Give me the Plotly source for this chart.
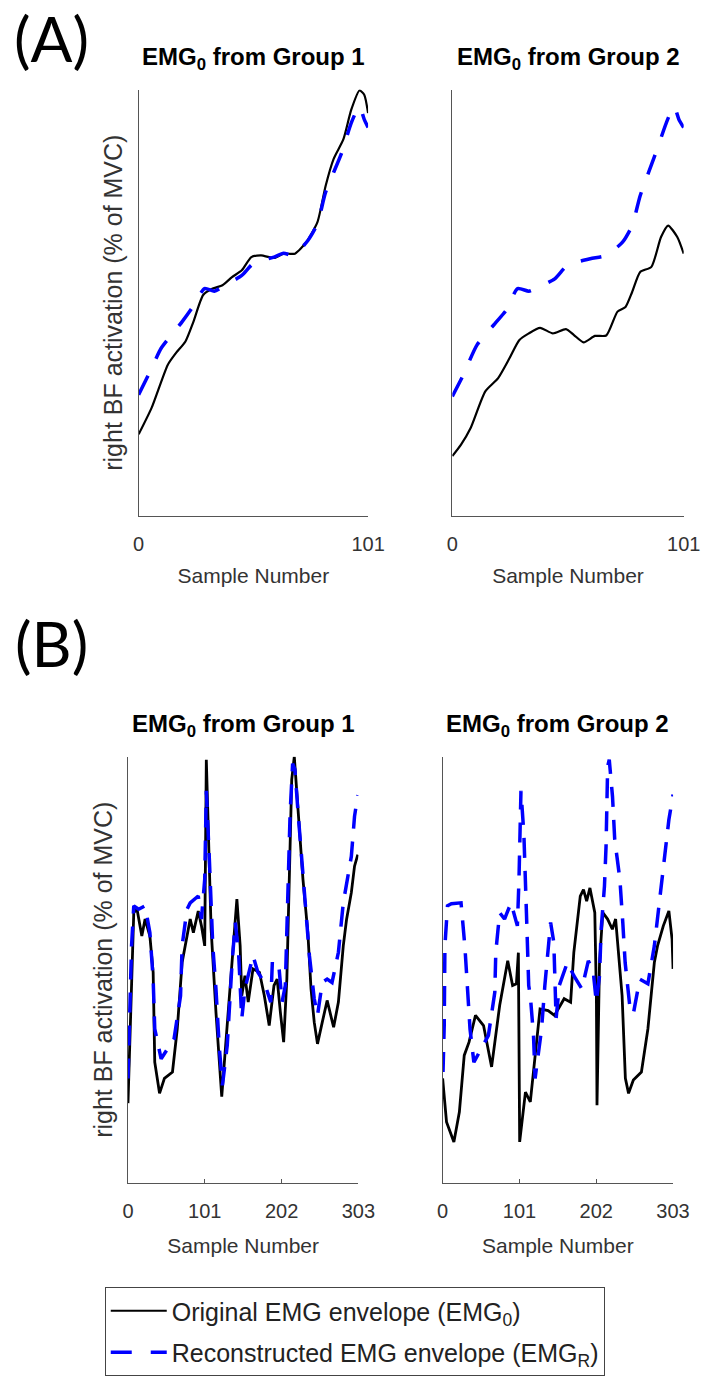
import plotly.graph_objects as go

W, H = 722, 1376

# ---------------- data (arbitrary % of MVC units, 0-100 scale) ----------------
a1_orig_x = [0, 5.7, 12.8, 16.3, 20.6, 24.1, 28.4, 32.6, 36.9, 41.1, 45.4, 49.6, 53.9, 59.6,
             63.8, 68.8, 73.8, 78.7, 82.3, 85.8, 90.1, 93.6, 97.2, 99.3, 101]
a1_orig_y = [19.1, 25.3, 35.4, 38.1, 40.9, 45.5, 51.8, 53.3, 54.1, 56.0, 57.6, 60.7, 61.1, 60.5,
             61.5, 61.5, 64.2, 68.9, 77.4, 83.7, 88.3, 95.3, 99.8, 98.8, 94.5]
a1_rec_x = [0, 5.7, 9.9, 19.1, 23.3, 29.0, 33.3, 36.9, 45.4, 50.3, 59.6, 63.8, 68.1, 74.5,
            78.7, 82.3, 89.4, 93.6, 97.2, 99.3, 101]
a1_rec_y = [28.4, 34.6, 39.3, 45.5, 48.6, 53.3, 52.7, 53.7, 56.4, 59.1, 60.7, 61.6, 61.1, 64.6,
            68.5, 75.9, 85.2, 92.2, 96.1, 93.0, 91.1]

a2_orig_x = [0, 3.8, 8.0, 14.4, 20.0, 25.0, 29.2, 33.4, 38.3, 43.9, 49.6, 53.1, 57.3, 62.3,
             67.2, 72.1, 75.6, 78.5, 82.0, 86.9, 91.1, 94.2, 98.2, 101]
a2_orig_y = [14.0, 16.7, 20.6, 29.2, 32.3, 37.0, 41.2, 42.8, 44.1, 42.8, 43.8, 42.4, 40.7, 42.2,
             42.3, 47.9, 49.0, 52.5, 57.2, 58.4, 65.4, 68.1, 65.4, 61.5]
a2_rec_x = [0, 4.5, 10.8, 18.6, 23.5, 28.5, 33.4, 36.2, 44.7, 50.3, 60.2, 67.2, 74.3, 78.5,
            82.0, 88.3, 94.0, 96.8, 98.9, 101]
a2_rec_y = [28.0, 32.7, 40.1, 45.1, 48.2, 53.3, 52.7, 53.3, 55.6, 58.8, 60.3, 61.1, 64.2, 68.1,
            75.1, 84.4, 93.0, 96.1, 93.0, 91.1]

b1_orig_x = [0, 3.5, 7.6, 11.9, 18.2, 22.5, 28.8, 33.1, 35.2, 41.5, 47.9, 58.5, 64.8, 71.2,
             75.4, 81.8, 86.0, 92.4, 96.6, 100.9, 103.0, 105.1, 109.3, 115.7, 123.3, 128.4,
             134.8, 139.0, 143.2, 147.5, 149.6, 153.8, 158.1, 164.4, 172.9, 179.3, 185.7,
             192.0, 196.2, 200.4, 204.7, 208.9, 211.0, 215.3, 218.7, 223.7, 230.1, 236.5,
             240.7, 244.9, 249.2, 255.5, 261.9, 270.4, 276.7, 283.1, 287.4, 293.7, 297.9, 302.2]
b1_orig_y = [18.7, 40.0, 63.4, 64.2, 57.9, 61.9, 57.9, 49.4, 28.3, 21.0, 24.5, 26.0, 36.1, 51.7,
             55.6, 61.9, 58.7, 63.8, 60.3, 55.6, 99.3, 86.8, 59.6, 40.0, 20.2, 32.2,
             47.9, 58.7, 66.6, 55.6, 43.9, 48.6, 42.4, 50.2, 49.4, 43.9, 36.9,
             46.3, 47.8, 40.0, 33.0, 47.8, 63.4, 94.6, 100.0, 86.8, 71.2, 58.7,
             45.5, 37.7, 32.6, 37.7, 42.8, 36.5, 42.4, 55.6, 61.8, 68.1, 74.3, 77.0]
b1_rec_x = [0, 3.4, 4.7, 7.6, 14.0, 22.5, 28.8, 33.1, 35.2, 43.6, 60.6, 69.1, 71.2, 77.6, 81.8,
            92.4, 96.6, 100.9, 103.0, 107.2, 111.5, 115.7, 119.9, 124.2, 130.5, 136.9, 141.1,
            145.4, 147.5, 149.6, 153.8, 164.4, 170.8, 179.3, 187.8, 189.9, 198.4, 202.6,
            206.9, 208.9, 213.2, 216.5, 219.5, 223.7, 230.1, 236.5, 238.6, 244.9, 249.2,
            255.5, 261.9, 268.3, 276.7, 283.1, 293.7, 297.9, 302.2]
b1_rec_y = [24.5, 43.9, 55.6, 65.0, 64.2, 65.0, 58.7, 47.8, 36.1, 29.1, 33.8, 43.9, 55.6, 64.2, 65.7,
            67.3, 61.9, 71.2, 92.0, 75.1, 55.6, 45.5, 32.2, 22.9, 32.2, 51.7, 61.1,
            54.1, 47.8, 38.5, 45.5, 53.3, 49.4, 47.0, 42.4, 52.1, 50.9, 42.4,
            46.3, 59.6, 86.8, 98.4, 97.0, 86.8, 72.7, 59.6, 53.3, 43.2, 39.3,
            47.0, 47.8, 47.0, 54.1, 65.7, 76.6, 86.0, 91.0]

b2_orig_x = [0, 5.1, 14.8, 22.0, 28.4, 34.7, 43.2, 53.8, 64.4, 75.0, 85.6, 92.0, 97.0, 99.6,
             101.3, 108.9, 115.3, 128.1, 138.7, 147.1, 159.8, 168.3, 172.5, 181.0, 185.2,
             189.4, 193.7, 200.1, 202.2, 203.0, 206.3, 210.6, 216.9, 223.2, 227.5, 236.0,
             240.3, 244.5, 250.8, 261.4, 269.9, 278.4, 282.6, 290.2, 297.5, 301.7, 303]
b2_orig_y = [24.5, 14.3, 9.6, 16.6, 29.9, 33.0, 39.3, 36.9, 27.2, 41.6, 52.1, 46.3, 46.7, 54.0,
             9.6, 21.3, 19.0, 40.8, 40.4, 39.3, 43.2, 42.4, 54.0, 67.3, 68.8,
             66.1, 69.2, 63.4, 43.9, 18.2, 51.7, 63.4, 61.9, 59.5, 61.9, 43.9,
             24.5, 21.0, 24.1, 26.0, 36.1, 51.7, 55.6, 60.3, 63.8, 57.2, 50.2]
b2_rec_x = [0.5, 2.1, 3.0, 6.4, 11.5, 24.2, 29.2, 33.0, 36.0, 41.1, 60.2, 68.6, 69.9, 75.0,
            81.4, 89.9, 98.3, 100.4, 103.0, 104.5, 106.8, 110.2, 113.2, 115.3, 119.5, 121.6,
            130.1, 134.4, 138.6, 142.0, 146.2, 147.1, 149.2, 153.4, 164.0, 172.5, 183.1,
            191.6, 197.9, 202.1, 206.3, 208.5, 212.8, 214.9, 217.0, 219.1, 223.4, 226.3,
            233.1, 236.9, 240.0, 246.5, 250.8, 259.3, 269.9, 278.4, 284.8, 291.1, 297.5, 303]
b2_rec_y = [26.0, 36.9, 55.6, 65.0, 65.5, 65.7, 55.6, 46.0, 36.1, 28.3, 34.6, 44.7, 54.1, 63.4,
            61.9, 65.7, 60.3, 71.2, 92.0, 88.0, 82.0, 63.4, 46.3, 43.9, 34.6, 24.5,
            36.1, 46.3, 54.1, 61.1, 56.4, 47.8, 38.5, 46.3, 51.7, 48.6, 45.5,
            52.1, 49.8, 42.4, 48.6, 59.6, 69.6, 79.0, 97.7, 99.3, 90.6, 80.6,
            71.2, 61.1, 51.7, 40.8, 39.7, 47.8, 46.7, 55.6, 65.7, 75.1, 85.2, 91.1]

a_ticks = [0, 101]
b_ticks = [0, 101, 202, 303]
x_label = "Sample Number"
y_label = "right BF activation (% of MVC)"
titles = ["EMG<sub>0</sub> from Group 1", "EMG<sub>0</sub> from Group 2",
          "EMG<sub>0</sub> from Group 1", "EMG<sub>0</sub> from Group 2"]
legend_names = ["Original EMG envelope (EMG<sub>0</sub>)",
                "Reconstructed EMG envelope (EMG<sub>R</sub>)"]

# ---------------- layout geometry (pixels) ----------------
def xd(l, r):
    return [l / W, r / W]

def yd(top, bot):
    return [(H - bot) / H, (H - top) / H]

panels = [
    dict(x=xd(137, 374), y=yd(90, 518), rng=[0, 101], ticks=a_ticks, ytitle=True, xs=14),
    dict(x=xd(461, 700), y=yd(90, 518), rng=[0, 101], ticks=a_ticks, ytitle=False, xs=14),
    dict(x=xd(126, 364), y=yd(760, 1188), rng=[0, 303], ticks=b_ticks, ytitle=True, xs=17),
    dict(x=xd(451, 689), y=yd(760, 1188), rng=[0, 303], ticks=b_ticks, ytitle=False, xs=17),
]

FONT = "Liberation Sans, Arial, sans-serif"
AXC = "#555555"
TXC = "#333333"

fig = go.Figure()

series = [
    (a1_orig_x, a1_orig_y, a1_rec_x, a1_rec_y),
    (a2_orig_x, a2_orig_y, a2_rec_x, a2_rec_y),
    (b1_orig_x, b1_orig_y, b1_rec_x, b1_rec_y),
    (b2_orig_x, b2_orig_y, b2_rec_x, b2_rec_y),
]

for i, (ox, oy, rx, ry) in enumerate(series):
    sfx = "" if i == 0 else str(i + 1)
    is_a = i < 2
    fig.add_trace(go.Scatter(
        x=ox, y=oy, mode="lines", xaxis="x" + sfx, yaxis="y" + sfx,
        line=dict(color="black", width=2.2 if is_a else 2.8,
                  shape="spline" if is_a else "linear", smoothing=0.6),
        name=legend_names[0], legendgroup="orig", showlegend=(i == 0)))
    fig.add_trace(go.Scatter(
        x=rx, y=ry, mode="lines", xaxis="x" + sfx, yaxis="y" + sfx,
        line=dict(color="#0000ff", width=3.5, dash="21px,19px" if is_a else "20px,13px",
                  shape="spline" if is_a else "linear", smoothing=0.6),
        name=legend_names[1], legendgroup="rec", showlegend=(i == 0)))

layout = dict(
    width=W, height=H, margin=dict(l=0, r=0, t=0, b=0),
    paper_bgcolor="white", plot_bgcolor="white",
    font=dict(family=FONT, color=TXC),
    showlegend=True,
    legend=dict(x=102 / W, y=(H - 1293) / H, xanchor="left", yanchor="top",
                bordercolor="#444444", borderwidth=1, bgcolor="white",
                font=dict(family=FONT, size=25, color="#222222"),
                itemwidth=56, traceorder="grouped", tracegroupgap=6),
)

for i, p in enumerate(panels):
    sfx = "" if i == 0 else str(i + 1)
    layout["xaxis" + sfx] = dict(
        domain=p["x"], anchor="y" + sfx, range=p["rng"], tickvals=p["ticks"],
        ticktext=[str(t) for t in p["ticks"]],
        ticks="inside", ticklen=4, tickcolor=AXC, showline=True, linecolor=AXC, linewidth=1,
        showgrid=False, zeroline=False, tickfont=dict(size=20, color=TXC),
        ticklabelstandoff=10,
        title=dict(text=x_label, font=dict(size=21, color=TXC), standoff=p["xs"]))
    ya = dict(
        domain=p["y"], anchor="x" + sfx, range=[0, 100], showticklabels=False, ticks="",
        showline=True, linecolor=AXC, linewidth=1, showgrid=False, zeroline=False)
    if p["ytitle"]:
        ya["title"] = dict(text=y_label, font=dict(size=25, color=TXC), standoff=7)
    layout["yaxis" + sfx] = ya

annotations = []
title_y = [59, 59, 729, 729]
for i, p in enumerate(panels):
    annotations.append(dict(
        text="<b>" + titles[i] + "</b>", xref="paper", yref="paper",
        x=(p["x"][0] + p["x"][1]) / 2, y=(H - title_y[i]) / H,
        xanchor="center", yanchor="middle", showarrow=False,
        font=dict(family=FONT, size=24, color="black")))
for lab, yc in (("(A)", 38), ("(B)", 646)):
    annotations.append(dict(
        text=lab, xref="paper", yref="paper", x=47 / W, y=(H - yc) / H,
        xanchor="center", yanchor="middle", showarrow=False,
        font=dict(family="Lato, sans-serif", size=62, color="black")))
layout["annotations"] = annotations

fig.update_layout(**layout)
fig.write_html("out.html")
